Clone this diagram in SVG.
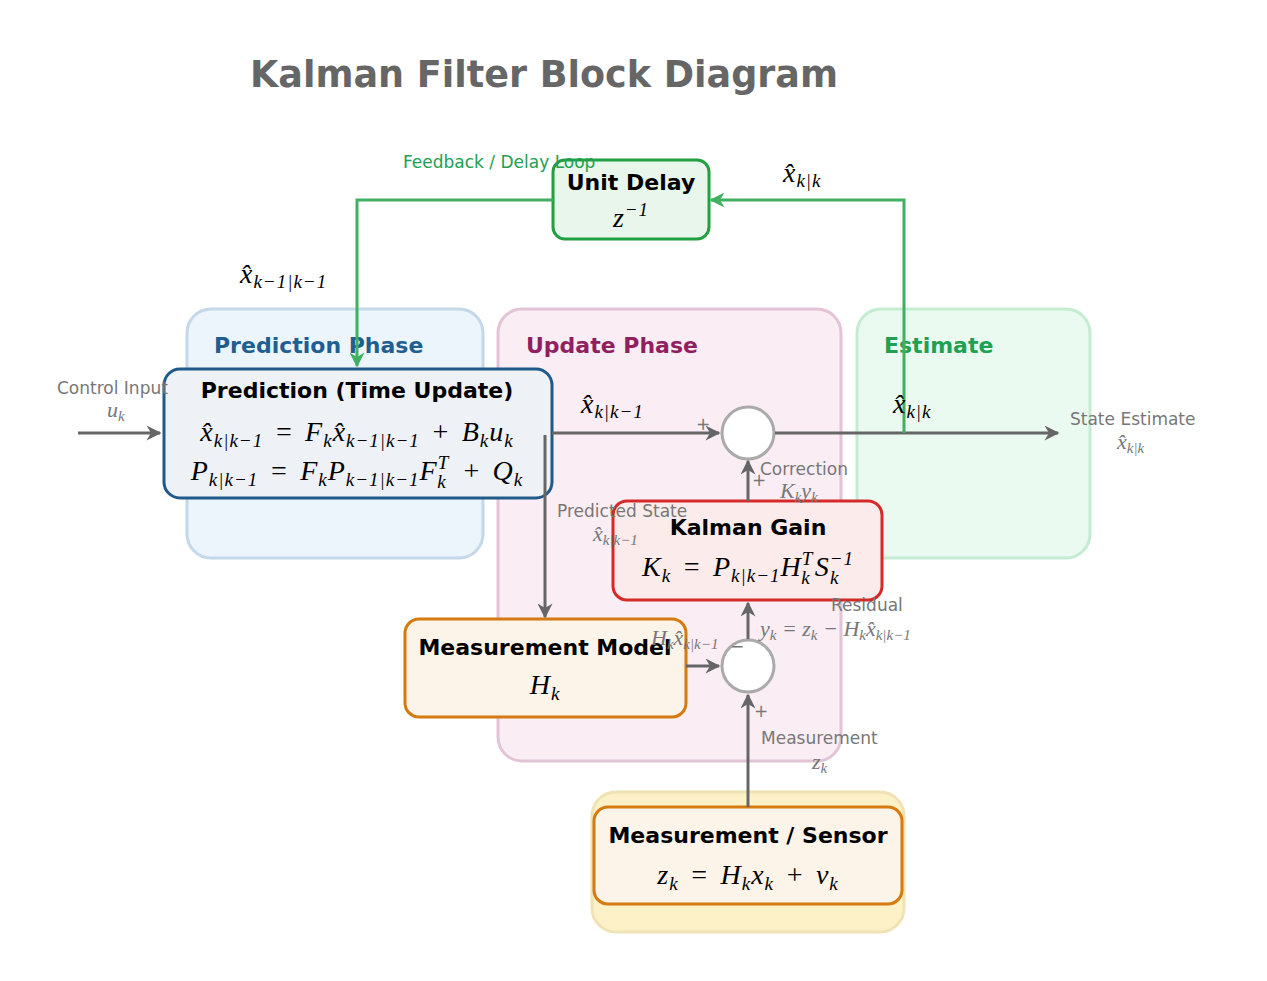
<svg xmlns="http://www.w3.org/2000/svg" width="1267" height="981" viewBox="0 0 1267 981">
<defs>
<style>
.ttl{font-family:"DejaVu Sans",sans-serif;font-weight:bold;fill:#666}
.ph{font-family:"DejaVu Sans",sans-serif;font-weight:bold;font-size:22px}
.nt{font-family:"DejaVu Sans",sans-serif;font-weight:bold;font-size:22px;fill:#000;text-anchor:middle}
.m{font-family:"Liberation Serif",serif;font-style:italic;font-size:28px;fill:#000;letter-spacing:1px;word-spacing:3px}
.mc{text-anchor:middle}
.s{font-size:19px}
.lab{font-family:"DejaVu Sans",sans-serif;font-size:17px;fill:#777}
.lm{font-family:"Liberation Serif",serif;font-style:italic;font-size:22px;fill:#777}
.ls{font-size:15px}
.ln{fill:none;stroke:#666;stroke-width:3}
.gl{fill:none;stroke:#40b060;stroke-width:3}
.node{stroke-width:3}
</style>
<marker id="a" viewBox="0 0 10 10" refX="9" refY="5" markerWidth="17" markerHeight="15" markerUnits="userSpaceOnUse" orient="auto"><path d="M0,0 L10,5 L0,10 L3,5 Z" fill="#666"/></marker>
<marker id="ag" viewBox="0 0 10 10" refX="9" refY="5" markerWidth="17" markerHeight="15" markerUnits="userSpaceOnUse" orient="auto"><path d="M0,0 L10,5 L0,10 L3,5 Z" fill="#40b060"/></marker>
</defs>
<rect width="1267" height="981" fill="#fff"/>
<text class="ttl" x="250" y="87" font-size="38" textLength="588" lengthAdjust="spacingAndGlyphs">Kalman Filter Block Diagram</text>

<g id="panels">
<rect x="187" y="309" width="296" height="249" rx="24" fill="#ecf4fc" stroke="#c4d8ea" stroke-width="3"/>
<rect x="498" y="309" width="343" height="452" rx="24" fill="#faedf4" stroke="#e2c4d6" stroke-width="3"/>
<rect x="857" y="309" width="233" height="249" rx="24" fill="#ebfaf0" stroke="#c4ecd2" stroke-width="3"/>
<rect x="592" y="792" width="312" height="140" rx="24" fill="#fdf1c8" stroke="#f0e2b4" stroke-width="3"/>
<text class="ph" x="214" y="353" fill="#1f5f8f">Prediction Phase</text>
<text class="ph" x="526" y="353" fill="#8f1f5f">Update Phase</text>
<text class="ph" x="884" y="353" fill="#20a050">Estimate</text>
</g>

<g id="delay">
<rect class="node" x="553" y="160" width="156" height="79" rx="12" fill="#e9f6ec" stroke="#20a040"/>
<text class="nt" x="631" y="190">Unit Delay</text>
<text class="m mc" x="631" y="227">z<tspan class="s" dy="-11">−1</tspan></text>
</g>

<g id="prediction">
<rect class="node" x="164" y="369" width="388" height="129" rx="16" fill="#eef2f6" stroke="#1f5a8a"/>
<text class="nt" x="357" y="398">Prediction (Time Update)</text>
<text class="m mc" x="357" y="441">x̂<tspan class="s" dy="6">k|k−1</tspan><tspan dy="-6"> = F</tspan><tspan class="s" dy="6">k</tspan><tspan dy="-6">x̂</tspan><tspan class="s" dy="6">k−1|k−1</tspan><tspan dy="-6"> + B</tspan><tspan class="s" dy="6">k</tspan><tspan dy="-6">u</tspan><tspan class="s" dy="6">k</tspan></text>
<text class="m mc" x="357" y="480">P<tspan class="s" dy="6">k|k−1</tspan><tspan dy="-6"> = F</tspan><tspan class="s" dy="6">k</tspan><tspan dy="-6">P</tspan><tspan class="s" dy="6">k−1|k−1</tspan><tspan dy="-6">F</tspan><tspan class="s" dy="-11">T</tspan><tspan class="s" dx="-12" dy="19">k</tspan><tspan dy="-8" dx="4"> + Q</tspan><tspan class="s" dy="6">k</tspan></text>
</g>

<g id="gain">
<rect class="node" x="613" y="501" width="269" height="99" rx="14" fill="#fbebeb" stroke="#d42a2a"/>
<text class="nt" x="748" y="535">Kalman Gain</text>
<text class="m mc" x="748" y="576">K<tspan class="s" dy="6">k</tspan><tspan dy="-6"> = P</tspan><tspan class="s" dy="6">k|k−1</tspan><tspan dy="-6">H</tspan><tspan class="s" dy="-11">T</tspan><tspan class="s" dx="-12" dy="19">k</tspan><tspan dy="-8" dx="4">S</tspan><tspan class="s" dy="-11">−1</tspan><tspan class="s" dx="-24" dy="19">k</tspan><tspan class="s" dx="12"> </tspan></text>
</g>

<g id="model">
<rect class="node" x="405" y="619" width="281" height="98" rx="14" fill="#fcf3e9" stroke="#d47a10"/>
<text class="nt" x="545" y="655">Measurement Model</text>
<text class="m mc" x="545" y="694">H<tspan class="s" dy="6">k</tspan></text>
</g>

<g id="sensor">
<rect class="node" x="594" y="807" width="308" height="97" rx="14" fill="#fcf3e9" stroke="#d47a10"/>
<text class="nt" x="748" y="843">Measurement / Sensor</text>
<text class="m mc" x="748" y="884">z<tspan class="s" dy="6">k</tspan><tspan dy="-6"> = H</tspan><tspan class="s" dy="6">k</tspan><tspan dy="-6">x</tspan><tspan class="s" dy="6">k</tspan><tspan dy="-6"> + v</tspan><tspan class="s" dy="6">k</tspan></text>
</g>

<g id="sum1"><circle cx="748" cy="433" r="26" fill="#fff" stroke="#aaa" stroke-width="3"/></g>
<g id="sum2"><circle cx="748" cy="666" r="26" fill="#fff" stroke="#aaa" stroke-width="3"/></g>

<g id="connectors">
<path class="ln" d="M78,433 H160" marker-end="url(#a)"/>
<path class="ln" d="M552,433 H719" marker-end="url(#a)"/>
<path class="ln" d="M775,433 H1058" marker-end="url(#a)"/>
<path class="ln" d="M545,435 V617" marker-end="url(#a)"/>
<path class="ln" d="M748,501 V461" marker-end="url(#a)"/>
<path class="ln" d="M748,639 V603" marker-end="url(#a)"/>
<path class="ln" d="M686,666 H719" marker-end="url(#a)"/>
<path class="ln" d="M748,807 V695" marker-end="url(#a)"/>
<path class="gl" d="M904,433 V200 H711" marker-end="url(#ag)"/>
<path class="gl" d="M553,200 H357 V366" marker-end="url(#ag)"/>
</g>

<g id="labels">
<text x="403" y="168" font-family="DejaVu Sans,sans-serif" font-size="17" fill="#20a050">Feedback / Delay Loop</text>
<text class="m" x="783" y="182" font-size="25">x̂<tspan class="s" font-size="18" dy="5">k|k</tspan></text>
<text class="m" x="240" y="283" font-size="25">x̂<tspan class="s" font-size="18" dy="5">k−1|k−1</tspan></text>
<text class="lab" x="57" y="394">Control Input</text>
<text class="lm" x="107" y="417">u<tspan class="ls" dy="4">k</tspan></text>
<text class="m" x="581" y="413" font-size="25">x̂<tspan class="s" font-size="18" dy="5">k|k−1</tspan></text>
<text class="lab" x="696" y="430" font-size="20">+</text>
<text class="m" x="893" y="413" font-size="25">x̂<tspan class="s" font-size="18" dy="5">k|k</tspan></text>
<text class="lab" x="1070" y="425">State Estimate</text>
<text class="lm" x="1117" y="449">x̂<tspan class="ls" dy="4">k|k</tspan></text>
<text class="lab" x="752" y="486" font-size="20">+</text>
<text class="lab" x="760" y="475">Correction</text>
<text class="lm" x="780" y="498">K<tspan class="ls" dy="4">k</tspan><tspan dy="-4">y</tspan><tspan class="ls" dy="4">k</tspan></text>
<text class="lab" x="557" y="517">Predicted State</text>
<text class="lm" x="593" y="541">x̂<tspan class="ls" dy="4">k|k−1</tspan></text>
<text class="lab" x="831" y="611">Residual</text>
<text class="lm" x="760" y="636">y<tspan class="ls" dy="4">k</tspan><tspan dy="-4"> = z</tspan><tspan class="ls" dy="4">k</tspan><tspan dy="-4"> − H</tspan><tspan class="ls" dy="4">k</tspan><tspan dy="-4">x̂</tspan><tspan class="ls" dy="4">k|k−1</tspan></text>
<text class="lm" x="651" y="645">H<tspan class="ls" dy="4">k</tspan><tspan dy="-4">x̂</tspan><tspan class="ls" dy="4">k|k−1</tspan></text>
<text class="lab" x="730" y="652" font-size="20">−</text>
<text class="lab" x="754" y="717" font-size="20">+</text>
<text class="lab" x="761" y="744">Measurement</text>
<text class="lm" x="812" y="769">z<tspan class="ls" dy="4">k</tspan></text>
</g>
</svg>
